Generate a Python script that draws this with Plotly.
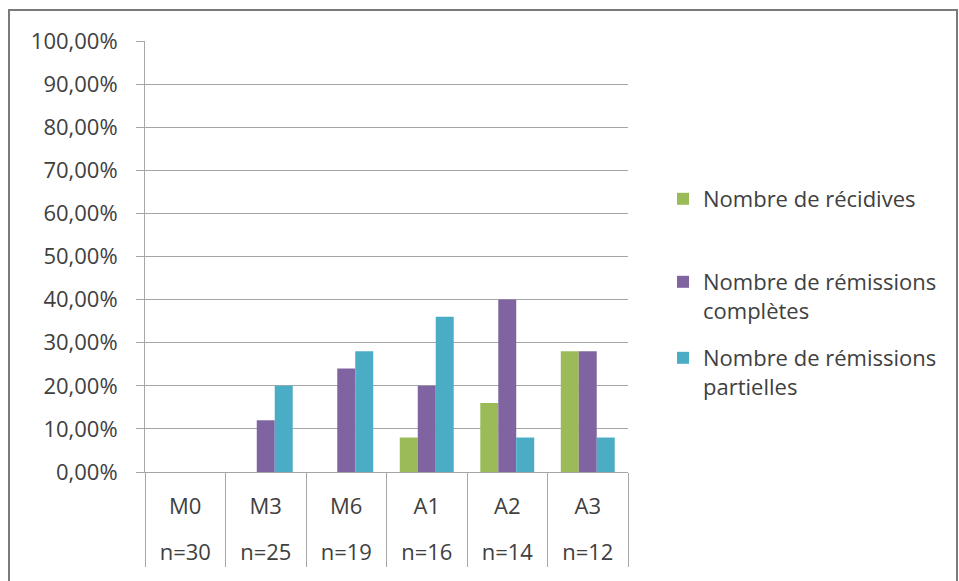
import plotly.graph_objects as go

# Time points and cohort sizes
periodes = ["M0", "M3", "M6", "A1", "A2", "A3"]
effectifs = ["n=30", "n=25", "n=19", "n=16", "n=14", "n=12"]

# Percentages per time point
recidives = [0, 0, 0, 8, 16, 28]
remissions_completes = [0, 12, 24, 20, 40, 28]
remissions_partielles = [0, 20, 28, 36, 8, 8]

series_noms = [
    "Nombre de récidives",
    "Nombre de rémissions<br>complètes",
    "Nombre de rémissions<br>partielles",
]
series_couleurs = ["#9bbb59", "#8064a2", "#4bacc6"]

# Figure geometry (pixels)
W, H = 959, 581
L, R, T, B = 145, 331, 41, 109
PW, PH = W - L - R, H - T - B


def px_x(p):
    return (p - L) / PW


def px_y(p):
    return (H - B - p) / PH


FONT = dict(family="Open Sans", size=22, color="#404040")
GRID = "#a6a6a6"

# second label row sits one blank line lower, as in the two-level category axis
effectifs_affiches = ["<br>" + e for e in effectifs]

fig = go.Figure()
series = [recidives, remissions_completes, remissions_partielles]
legend_ids = ["legend", "legend2", "legend3"]
for vals, nom, col, lg in zip(series, series_noms, series_couleurs, legend_ids):
    fig.add_trace(
        go.Bar(
            x=[effectifs_affiches, periodes],
            y=[v / 100 for v in vals],
            name=nom,
            marker=dict(color=col, line=dict(width=0)),
            legend=lg,
            showlegend=True,
        )
    )

legend_common = dict(
    font=FONT,
    xanchor="left",
    yanchor="top",
    valign="top",
    bgcolor="rgba(0,0,0,0)",
    borderwidth=0,
)

fig.update_layout(
    width=W,
    height=H,
    autosize=False,
    margin=dict(l=L, r=R, t=T, b=B, pad=0),
    paper_bgcolor="white",
    plot_bgcolor="white",
    font=FONT,
    separators=", ",
    barmode="group",
    bargap=0.33,
    bargroupgap=0,
    showlegend=True,
    legend=dict(x=px_x(663), y=px_y(178), **legend_common),
    legend2=dict(x=px_x(663), y=px_y(261), **legend_common),
    legend3=dict(x=px_x(663), y=px_y(337), **legend_common),
    xaxis=dict(
        type="multicategory",
        showline=True,
        linecolor=GRID,
        linewidth=1,
        ticks="",
        showdividers=True,
        dividercolor=GRID,
        dividerwidth=1,
        showgrid=False,
        ticklabelstandoff=15,
        tickfont=FONT,
    ),
    yaxis=dict(
        range=[0, 1],
        dtick=0.1,
        tick0=0,
        tickformat=".2%",
        showgrid=True,
        gridcolor=GRID,
        gridwidth=1,
        showline=True,
        linecolor=GRID,
        linewidth=1,
        ticks="outside",
        ticklen=8,
        tickcolor=GRID,
        ticklabelstandoff=14,
        zeroline=False,
        tickfont=FONT,
    ),
    shapes=[
        dict(
            type="rect",
            xref="paper",
            yref="paper",
            x0=px_x(9),
            x1=px_x(957),
            y0=px_y(600),
            y1=px_y(10),
            line=dict(color="#7a7a7a", width=2),
            fillcolor="rgba(0,0,0,0)",
            layer="below",
        )
    ],
)

fig.write_html("out.html")
